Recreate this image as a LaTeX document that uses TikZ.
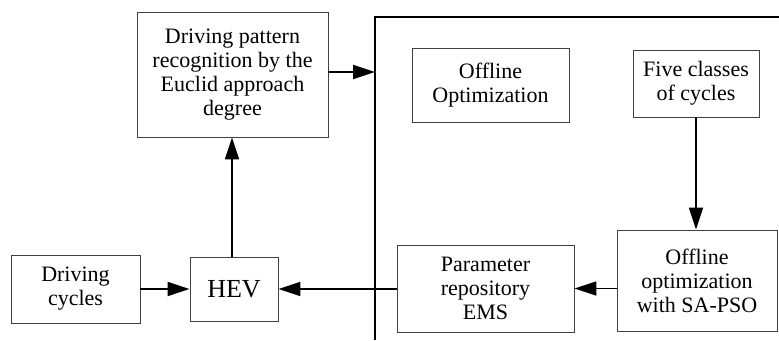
\documentclass[tikz,border=0pt]{standalone}
\usepackage{fontspec}
\setmainfont{Liberation Serif}
\usetikzlibrary{arrows.meta}
\tikzset{
  box/.style={draw=black!75, line width=0.9pt, rectangle, align=center, inner sep=0pt,
    font=\fontsize{22}{24}\selectfont},
  flow/.style={line width=1.8pt, -{Triangle[length=22pt,width=14pt]}},
  frame/.style={line width=1.8pt}
}
\begin{document}
\begin{tikzpicture}[x=1pt,y=-1pt]
\useasboundingbox (0,0) rectangle (779,340);
% nodes
\node[box, minimum width=191pt, minimum height=125pt] (pattern) at (232.5,74.5)
  {Driving pattern\\recognition by the\\Euclid approach\\degree};
\node[box, minimum width=129pt, minimum height=68pt] (cycles) at (75.5,289)
  {Driving\\cycles};
\node[box, minimum width=88pt, minimum height=64pt, font=\fontsize{26}{28}\selectfont] (hev) at (234,289)
  {HEV};
\node[box, minimum width=157pt, minimum height=74pt] (offline) at (490.5,85)
  {Offline\\Optimization};
\node[box, minimum width=126pt, minimum height=67pt] (five) at (696,83.5)
  {Five classes\\of cycles};
\node[box, minimum width=160pt, minimum height=101pt] (sapso) at (697,280.5)
  {Offline\\optimization\\with SA-PSO};
\node[box, minimum width=177pt, minimum height=87pt] (param) at (485.5,288.5)
  {Parameter\\repository\\EMS};
% frame of offline region
\coordinate (ftr) at (779,17);
\coordinate (ftl) at (375,17);
\coordinate (fbl) at (375,340);
\draw[frame] (ftr) -- (ftl) -- (fbl);
\coordinate (fin) at (375,72);
% connectors
\draw[flow] (hev.north -| 232,0) -- (232,0 |- pattern.south);
\draw[flow] (pattern.east |- fin) -- (fin);
\draw[flow] (cycles.east) -- (hev.west);
\draw[flow] (param.west |- hev.east) -- (hev.east);
\draw[flow] (sapso.west |- param.east) -- (param.east);
\draw[flow] (five.south) -- (five.south |- sapso.north);
\end{tikzpicture}
\end{document}
